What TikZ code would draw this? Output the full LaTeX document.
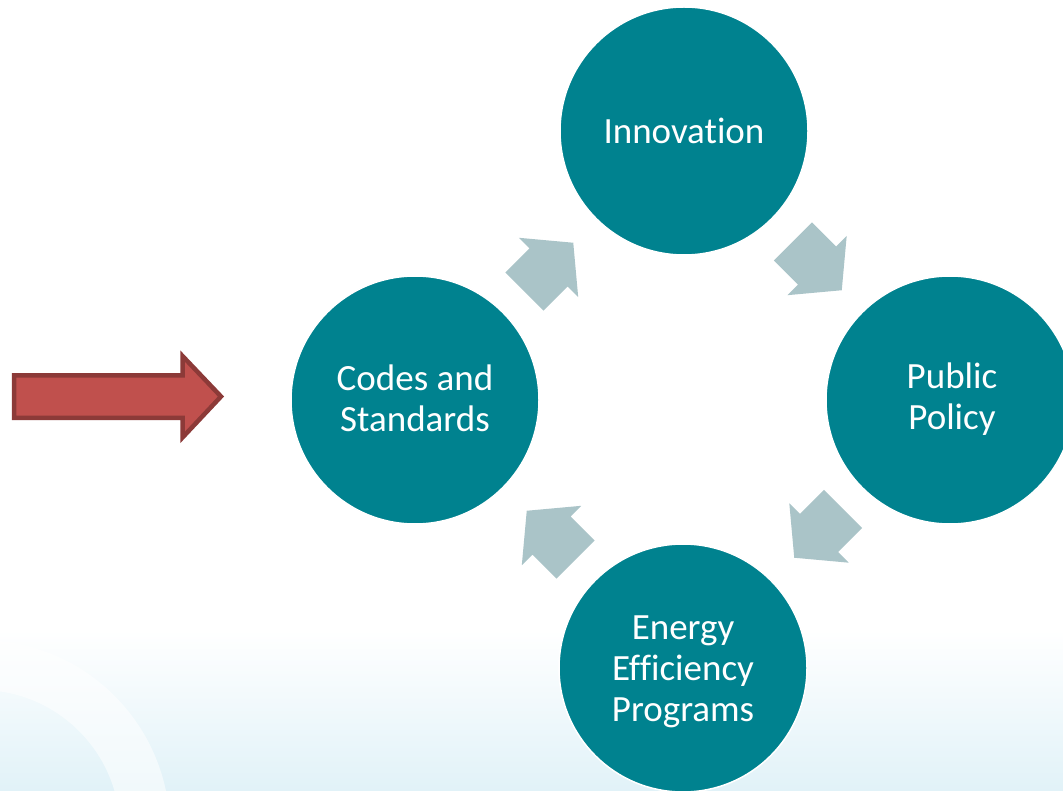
\documentclass[tikz,border=0pt]{standalone}
\usepackage{fontspec}
\newfontfamily\carlito[Ligatures=NoCommon]{Carlito}
\definecolor{tealc}{RGB}{0,130,143}
\definecolor{cycgrey}{RGB}{170,196,200}
\definecolor{redfill}{RGB}{192,80,77}
\definecolor{redline}{RGB}{140,58,56}
\definecolor{bgblue}{RGB}{225,242,248}
\tikzset{
  bubble/.style={circle, fill=tealc, draw=white, line width=1.5pt, minimum size=248pt,
    inner sep=0pt},
  btext/.style={inner sep=0pt, text=white, align=center,
    font=\carlito\fontsize{37}{41}\selectfont},
  cycarrow/.pic={\fill[cycgrey] (-34,-27) -- (0,-27) -- (0,-42) -- (35,0) -- (0,42) -- (0,27) -- (-34,27) -- cycle;},
  bigarrow/.style={fill=redfill, draw=redline, line width=4.5pt, line join=miter}
}
\begin{document}
\begin{tikzpicture}[x=1pt,y=-1pt]
\useasboundingbox (0,0) rectangle (1063,791);
% background
\fill[white] (0,0) rectangle (1063,791);
\fill[top color=white, bottom color=bgblue] (0,630) rectangle (1063,791);
\begin{scope}
\clip (0,600) rectangle (300,791);
\fill[white, opacity=0.55, even odd rule] (-20,830) circle[radius=190] (-20,830) circle[radius=140];
\end{scope}
% circles
\node[bubble] (inno) at (684,131) {};
\node[btext] (innot) at (684,131) {Innovation};
\node[bubble] (pub) at (950,400) {};
\node[btext] (pubt) at (952,399) {Public\\Policy};
\node[bubble] (eep) at (683,668) {};
\node[btext] (eept) at (683,672) {Energy\\Efficiency\\Programs};
\node[bubble] (cod) at (415,400) {};
\node[btext] (codt) at (415,398) {Codes and\\Standards};
% cycle arrows
\pic[rotate=45] at (548.5,267.5) {cycarrow};
\pic[rotate=-45] at (817,265.5) {cycarrow};
\pic[rotate=-135] at (819,533) {cycarrow};
\pic[rotate=135] at (551.5,535.5) {cycarrow};
% red arrow
\draw[bigarrow] (14,375.5) -- (182.5,375.5) -- (182.5,356) -- (221,396.5) -- (182.5,437.5) -- (182.5,418) -- (14,418) -- cycle;
\end{tikzpicture}
\end{document}
